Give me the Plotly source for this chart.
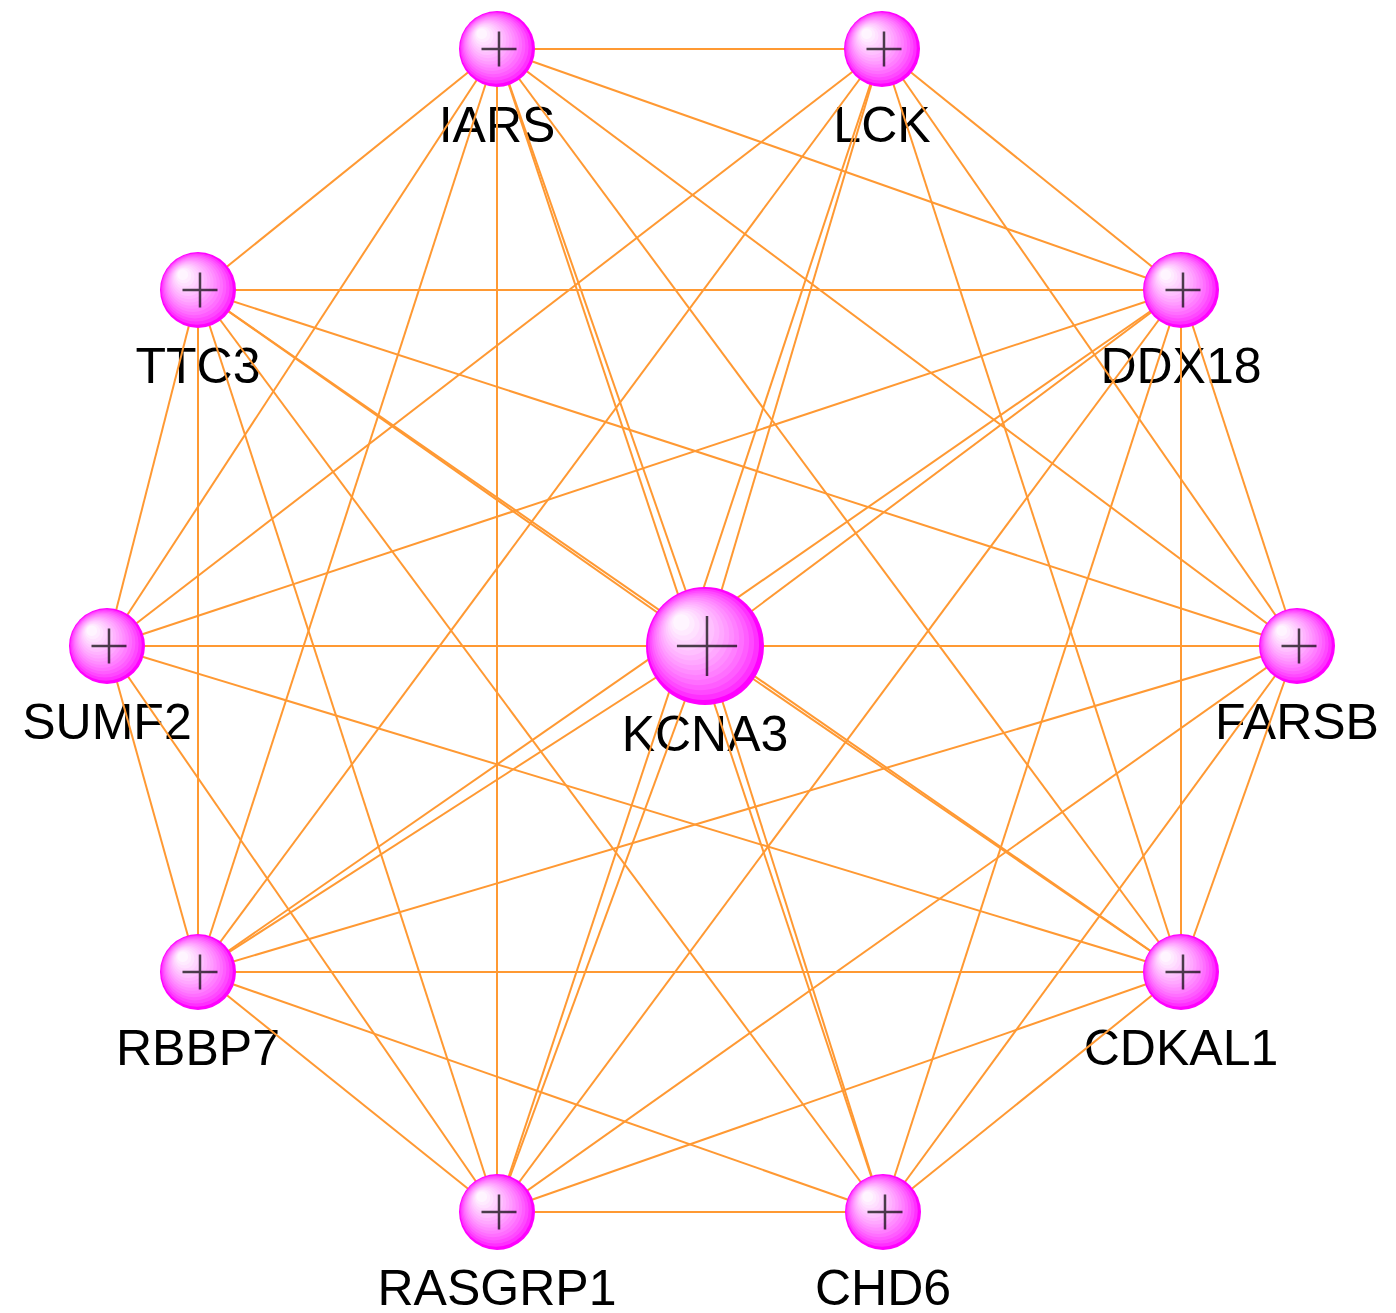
import plotly.graph_objects as go

# ---- data ----
nodes = ["IARS", "LCK", "TTC3", "DDX18", "SUMF2", "KCNA3", "FARSB",
         "RBBP7", "CDKAL1", "RASGRP1", "CHD6"]
node_x = [497, 882, 198, 1181, 107, 705, 1297, 198, 1181, 497, 883]
node_y = [49, 49, 290, 290, 646, 646, 646, 972, 972, 1212, 1212]
node_big = [False, False, False, False, False, True, False, False, False, False, False]

edges = [
    ("IARS", "LCK"), ("IARS", "TTC3"), ("IARS", "DDX18"), ("IARS", "SUMF2"),
    ("IARS", "KCNA3"), ("IARS", "FARSB"), ("IARS", "RBBP7"), ("IARS", "CDKAL1"),
    ("IARS", "RASGRP1"), ("IARS", "CHD6"),
    ("LCK", "DDX18"), ("LCK", "SUMF2"), ("LCK", "KCNA3"), ("LCK", "FARSB"),
    ("LCK", "RBBP7"), ("LCK", "CDKAL1"), ("LCK", "RASGRP1"),
    ("TTC3", "DDX18"), ("TTC3", "SUMF2"), ("TTC3", "KCNA3"), ("TTC3", "FARSB"),
    ("TTC3", "RBBP7"), ("TTC3", "CDKAL1"), ("TTC3", "RASGRP1"), ("TTC3", "CHD6"),
    ("DDX18", "SUMF2"), ("DDX18", "KCNA3"), ("DDX18", "FARSB"), ("DDX18", "RBBP7"),
    ("DDX18", "CDKAL1"), ("DDX18", "RASGRP1"), ("DDX18", "CHD6"),
    ("SUMF2", "KCNA3"), ("SUMF2", "FARSB"), ("SUMF2", "RBBP7"), ("SUMF2", "CDKAL1"),
    ("SUMF2", "RASGRP1"),
    ("KCNA3", "FARSB"), ("KCNA3", "RBBP7"), ("KCNA3", "CDKAL1"), ("KCNA3", "RASGRP1"),
    ("KCNA3", "CHD6"),
    ("FARSB", "RBBP7"), ("FARSB", "CDKAL1"), ("FARSB", "RASGRP1"), ("FARSB", "CHD6"),
    ("RBBP7", "CDKAL1"), ("RBBP7", "RASGRP1"), ("RBBP7", "CHD6"),
    ("CDKAL1", "RASGRP1"), ("CDKAL1", "CHD6"),
    ("RASGRP1", "CHD6"),
]

# ---- styles ----
EDGE_COLOR = "#FF9933"
SMALL_D, BIG_D = 76, 118
SMALL_CROSS, BIG_CROSS = 25, 43
CROSS_DX = 2
LABEL_OFF_SMALL, LABEL_OFF_BIG = 80, 92
W, H = 1396, 1313
N_LAYERS = 16

pos = {n: (x, y) for n, x, y in zip(nodes, node_x, node_y)}
diam = [BIG_D if b else SMALL_D for b in node_big]

fig = go.Figure()

# labels (drawn first: edges pass over them, as in the reference)
fig.add_trace(go.Scatter(
    x=node_x,
    y=[y + (LABEL_OFF_BIG if b else LABEL_OFF_SMALL) for y, b in zip(node_y, node_big)],
    mode="text", text=nodes, textposition="middle center", cliponaxis=False,
    textfont=dict(family="Liberation Sans, Arial, sans-serif", size=50, color="black"),
    hoverinfo="skip", showlegend=False))

# edges
ex, ey = [], []
for a, b in edges:
    ex += [pos[a][0], pos[b][0], None]
    ey += [pos[a][1], pos[b][1], None]
fig.add_trace(go.Scatter(x=ex, y=ey, mode="lines",
                         line=dict(color=EDGE_COLOR, width=2),
                         hoverinfo="skip", showlegend=False))

# shaded spheres: nested discs shifting toward the upper-left highlight
for k in range(N_LAYERS):
    t = k / (N_LAYERS - 1)
    g = int(round(245 * t ** 0.6))
    col = f"rgb(255,{g},255)"
    fig.add_trace(go.Scatter(
        x=[x - 0.2 * d * t for x, d in zip(node_x, diam)],
        y=[y - 0.2 * d * t for y, d in zip(node_y, diam)],
        mode="markers", hoverinfo="skip", showlegend=False,
        marker=dict(size=[d * (1 - 0.86 * t) for d in diam], color=col,
                    line=dict(width=0), opacity=1)))

# crosses
fig.add_trace(go.Scatter(
    x=[x + CROSS_DX for x in node_x], y=node_y, mode="markers",
    hoverinfo="skip", showlegend=False,
    marker=dict(symbol="cross-thin",
                size=[BIG_CROSS if b else SMALL_CROSS for b in node_big],
                color="black", line=dict(color="black", width=2.5))))

fig.update_layout(
    width=W, height=H,
    margin=dict(l=0, r=0, t=0, b=0),
    paper_bgcolor="white", plot_bgcolor="white",
    xaxis=dict(range=[0, W], visible=False, fixedrange=True),
    yaxis=dict(range=[H, 0], visible=False, fixedrange=True),
)

fig.write_html("out.html",
               config={"displayModeBar": False, "staticPlot": True},
               post_script="document.body.style.margin='0px';"
                           "document.body.style.overflow='hidden';")
